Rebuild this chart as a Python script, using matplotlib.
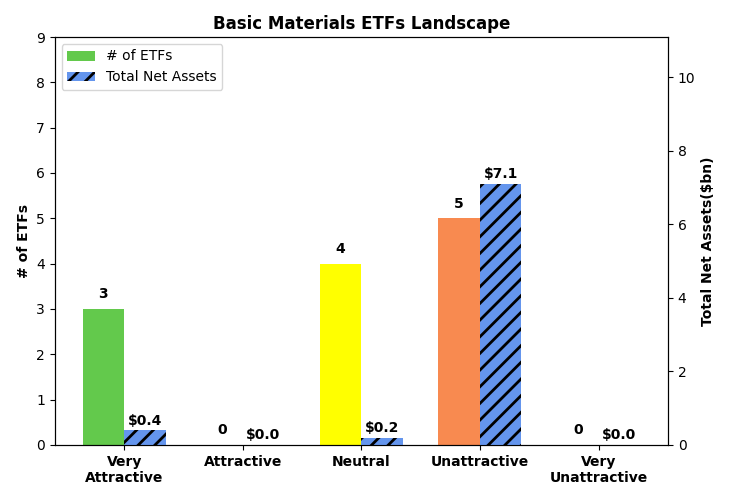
import matplotlib
matplotlib.use("Agg")
import matplotlib.pyplot as plt
import numpy as np

categories = ["Very\nAttractive", "Attractive", "Neutral", "Unattractive", "Very\nUnattractive"]
etf_counts = [3, 0, 4, 5, 0]
net_assets_bn = [0.4, 0.0, 0.2, 7.1, 0.0]
count_colors = ["#63c94c", "#63c94c", "#ffff00", "#f88a50", "#f88a50"]

plt.rcParams["hatch.linewidth"] = 2.0

fig, ax = plt.subplots(figsize=(7.3, 5), dpi=100)
fig.subplots_adjust(left=0.075, right=0.915, top=0.926, bottom=0.11)
ax2 = ax.twinx()

x = np.arange(len(categories))
width = 0.35

bars1 = ax.bar(x, etf_counts, width=-width, align="edge", color=count_colors, label="# of ETFs")
bars2 = ax2.bar(x, net_assets_bn, width=width, align="edge", color="#6495ed",
                edgecolor="black", linewidth=0, hatch="//", label="Total Net Assets")

for b, v in zip(bars1, etf_counts):
    ax.annotate(f"{v}", (b.get_x() + b.get_width() / 2, b.get_height()),
                xytext=(0, 5.5), textcoords="offset points", ha="center", va="bottom",
                fontweight="bold", fontsize=10)
for b, v in zip(bars2, net_assets_bn):
    ax2.annotate(f"${v:.1f}", (b.get_x() + b.get_width() / 2, b.get_height()),
                 xytext=(0, 2), textcoords="offset points", ha="center", va="bottom",
                 fontweight="bold", fontsize=10)

ax.set_ylim(0, 9)
ax.set_yticks(range(10))
ax2.set_ylim(0, 11.1)
ax2.set_yticks([0, 2, 4, 6, 8, 10])

ax.set_xticks(x)
ax.set_xticklabels(categories, fontweight="bold", fontsize=10)
ax.set_ylabel("# of ETFs", fontweight="bold")
ax2.set_ylabel("Total Net Assets($bn)", fontweight="bold")
ax.set_title("Basic Materials ETFs Landscape", fontweight="bold", fontsize=12)

h2, l2 = ax2.get_legend_handles_labels()
ax.legend([bars1[0]] + h2, ["# of ETFs"] + l2, loc="upper left")

fig.savefig("out.png", dpi=100)
